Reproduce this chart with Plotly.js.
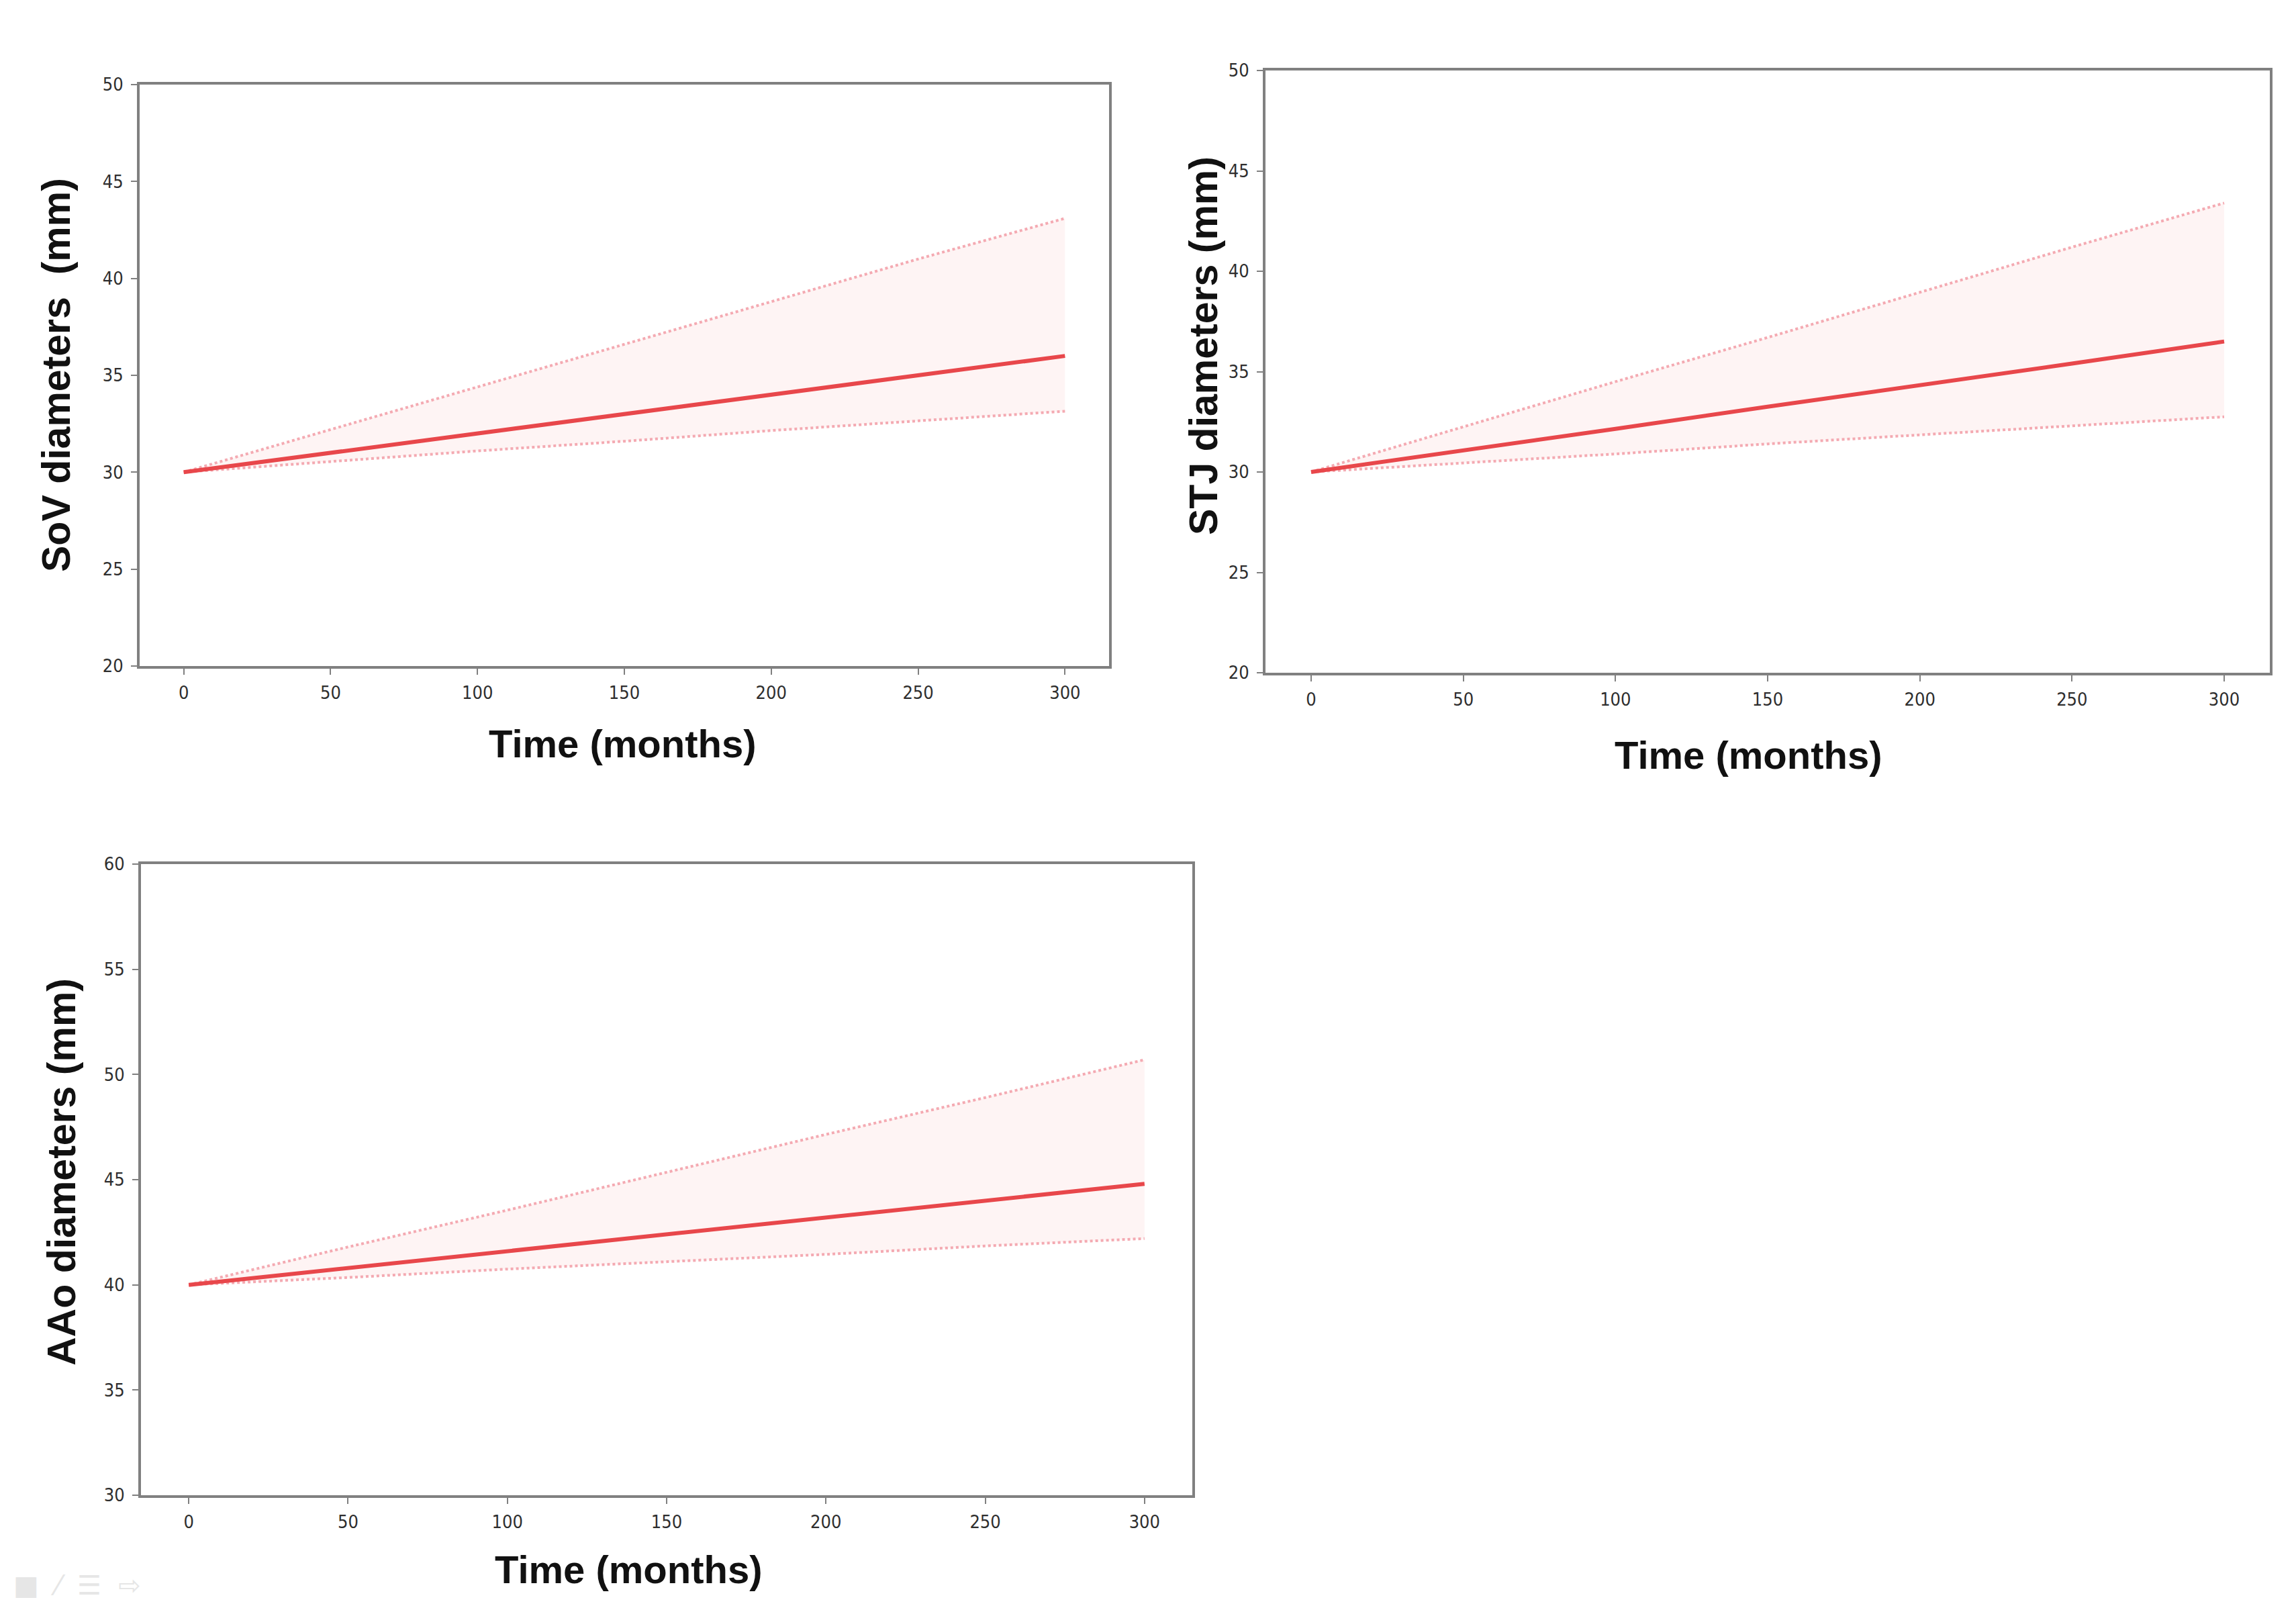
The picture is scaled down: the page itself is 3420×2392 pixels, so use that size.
<!DOCTYPE html>
<html>
<head>
<meta charset="utf-8">
<script src="https://cdn.plot.ly/plotly-3.0.1.min.js"></script>
<style>
  html, body { margin: 0; padding: 0; background: #ffffff; }
  #chart { width: 3420px; height: 2392px; }
</style>
</head>
<body>
<div id="chart"></div>
<script>
// ---- Data ----
const months = [0, 50, 100, 150, 200, 250, 300];
const xTickVals = [0, 50, 100, 150, 200, 250, 300];

const sovMean  = [30.0, 31.0, 32.0, 33.0, 34.0, 35.0, 36.0];
const sovUpper = [30.0, 32.2, 34.4, 36.6, 38.8, 41.0, 43.1];
const sovLower = [30.0, 30.55, 31.1, 31.6, 32.15, 32.65, 33.15];

const stjMean  = [30.0, 31.05, 32.15, 33.25, 34.3, 35.4, 36.5];
const stjUpper = [30.0, 32.25, 34.5, 36.7, 38.95, 41.2, 43.4];
const stjLower = [30.0, 30.45, 30.9, 31.4, 31.85, 32.3, 32.75];

const aaoMean  = [40.0, 40.8, 41.6, 42.4, 43.2, 44.0, 44.8];
const aaoUpper = [40.0, 41.8, 43.55, 45.35, 47.15, 48.9, 50.7];
const aaoLower = [40.0, 40.35, 40.75, 41.1, 41.45, 41.85, 42.2];

const yTitles = ["SoV diameters  (mm)", "STJ diameters (mm)", "AAo diameters (mm)"];
const xTitle = "Time (months)";

// ---- Styles ----
const W = 3420, H = 2392;
const meanColor = "#e8474b";
const bandLineColor = "#f4aab2";
const bandFill = "rgba(250, 215, 215, 0.28)";

function bandTraces(x, lo, hi, mean, xa, ya) {
  return [
    { x: x, y: lo, xaxis: xa, yaxis: ya, type: "scatter", mode: "lines",
      line: { color: bandLineColor, width: 4, dash: "dot" }, hoverinfo: "skip", showlegend: false },
    { x: x, y: hi, xaxis: xa, yaxis: ya, type: "scatter", mode: "lines", fill: "tonexty",
      fillcolor: bandFill,
      line: { color: bandLineColor, width: 4, dash: "dot" }, hoverinfo: "skip", showlegend: false },
    { x: x, y: mean, xaxis: xa, yaxis: ya, type: "scatter", mode: "lines",
      line: { color: meanColor, width: 6 }, showlegend: false }
  ];
}

const data = [].concat(
  bandTraces(months, sovLower, sovUpper, sovMean, "x", "y"),
  bandTraces(months, stjLower, stjUpper, stjMean, "x2", "y2"),
  bandTraces(months, aaoLower, aaoUpper, aaoMean, "x3", "y3")
);

const tickFont = { family: "Liberation Sans Narrow, DejaVu Sans Condensed, Liberation Sans, Arial, sans-serif", size: 27, color: "#2e2e2e" };

function xAxis(domain, anchor) {
  return {
    domain: domain, anchor: anchor, range: [-15, 315],
    tickmode: "array", tickvals: xTickVals,
    showline: true, mirror: true, linecolor: "#808080", linewidth: 4,
    ticks: "outside", ticklen: 9, tickwidth: 2, tickcolor: "#808080",
    ticklabelstandoff: 4,
    showgrid: false, zeroline: false, tickfont: tickFont
  };
}
function yAxis(domain, anchor, range) {
  return {
    domain: domain, anchor: anchor, range: range, dtick: 5, tick0: 0,
    showline: true, mirror: true, linecolor: "#808080", linewidth: 4,
    ticks: "outside", ticklen: 9, tickwidth: 2, tickcolor: "#808080",
    ticklabelstandoff: 6,
    showgrid: false, zeroline: false, tickfont: tickFont
  };
}

function px(x) { return x / W; }
function py(y) { return 1 - y / H; }

const titleFontX = { family: "Liberation Sans, Arial, sans-serif", size: 58, color: "#111111", weight: "bold" };
const titleFontY = { family: "Liberation Sans, Arial, sans-serif", size: 59, color: "#111111", weight: "bold" };

function ann(text, x, y, font, angle) {
  return { text: "<b>" + text + "</b>", xref: "paper", yref: "paper", x: px(x), y: py(y),
           xanchor: "center", yanchor: "middle", showarrow: false, font: font, textangle: angle || 0 };
}

const layout = {
  width: W, height: H,
  margin: { l: 0, r: 0, t: 0, b: 0 },
  paper_bgcolor: "#ffffff", plot_bgcolor: "#ffffff",
  showlegend: false,
  xaxis:  xAxis([px(208), px(1652)], "y"),
  yaxis:  yAxis([py(992), py(126)], "x", [20, 50]),
  xaxis2: xAxis([px(1885), px(3381)], "y2"),
  yaxis2: yAxis([py(1002), py(105)], "x2", [20, 50]),
  xaxis3: xAxis([px(210), px(1776)], "y3"),
  yaxis3: yAxis([py(2227), py(1287)], "x3", [30, 60]),
  annotations: [
    ann(xTitle, 927, 1107, titleFontX),
    ann(xTitle, 2604, 1124, titleFontX),
    ann(xTitle, 936, 2337, titleFontX),
    ann(yTitles[0], 84, 559, titleFontY, -90),
    ann(yTitles[1], 1793, 515, titleFontY, -90),
    ann(yTitles[2], 92, 1746, titleFontY, -90),
    { text: "■  ⁄  ☰  ⇨", xref: "paper", yref: "paper", x: px(18), y: py(2361),
      xanchor: "left", yanchor: "middle", showarrow: false,
      font: { family: "DejaVu Sans, sans-serif", size: 40, color: "#e6e6e6" } }
  ]
};

Plotly.newPlot("chart", data, layout, { displayModeBar: false, staticPlot: true });
</script>
</body>
</html>
